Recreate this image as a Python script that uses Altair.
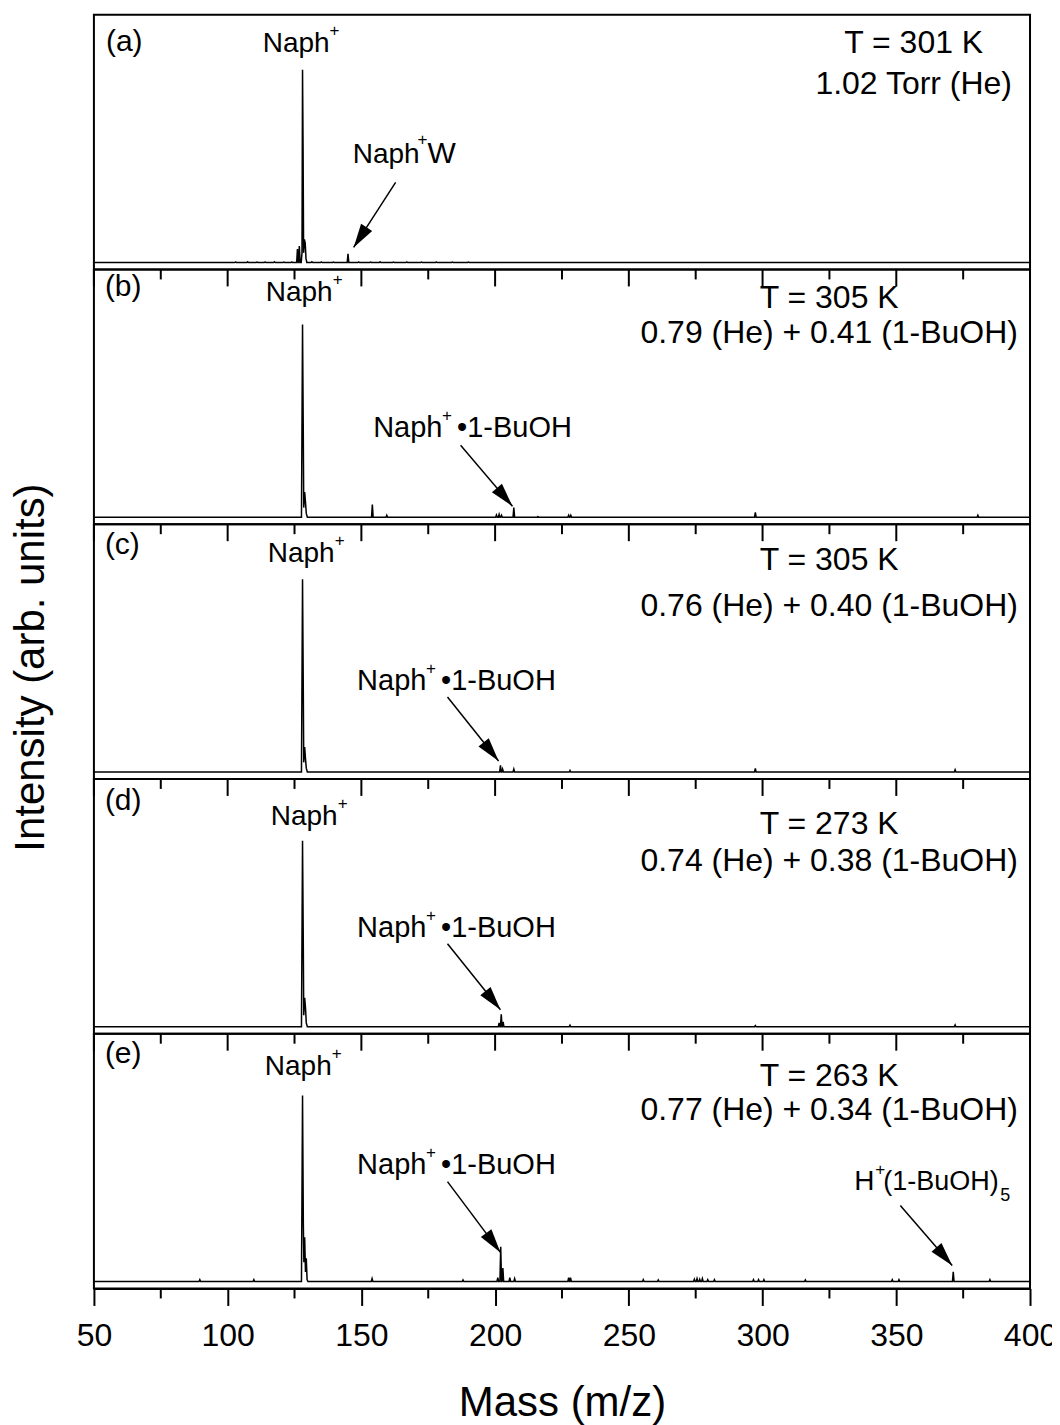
import altair as alt
import pandas as pd

FONT = "Liberation Sans"

# ---------------- axis / ticks ----------------
MZ_RANGE = [50, 400]
MAJOR_TICKS = [50, 100, 150, 200, 250, 300, 350, 400]
MINOR_TICKS = [75, 125, 175, 225, 275, 325, 375]
Y_RANGE = [-0.036, 1.285]

# ---------------- panel texts ----------------
PANEL_IDS = ["(a)", "(b)", "(c)", "(d)", "(e)"]
TEMPS = ["T = 301 K", "T = 305 K", "T = 305 K", "T = 273 K", "T = 263 K"]
PRESSURES = ["1.02 Torr (He)",
             "0.79 (He) + 0.41 (1-BuOH)",
             "0.76 (He) + 0.40 (1-BuOH)",
             "0.74 (He) + 0.38 (1-BuOH)",
             "0.77 (He) + 0.34 (1-BuOH)"]

# ---------------- spectra (m/z, relative intensity) ----------------
# main Naph+ cluster profile per panel
PROFILE_A = [(127.5, 0.0), (127.8, 0.05), (128.0, 1.0), (128.2, 0.6), (128.4, 0.05),
             (128.7, 0.12), (129.0, 0.1), (129.3, 0.02), (129.6, 0.0)]
PROFILE_B = [(127.6, 0.0), (128.0, 1.0), (128.25, 0.5), (128.45, 0.05), (128.8, 0.13),
             (129.1, 0.08), (129.4, 0.02), (129.8, 0.0)]
PROFILE_C = [(127.6, 0.0), (128.0, 1.0), (128.25, 0.5), (128.45, 0.05), (128.8, 0.13),
             (129.1, 0.07), (129.4, 0.02), (129.8, 0.0)]
PROFILE_D = [(127.6, 0.0), (128.0, 0.965), (128.25, 0.5), (128.45, 0.06), (128.8, 0.15),
             (129.1, 0.1), (129.4, 0.02), (129.8, 0.0)]
PROFILE_E = [(127.6, 0.0), (128.0, 0.965), (128.3, 0.3), (128.5, 0.1), (128.8, 0.23),
             (129.1, 0.05), (129.4, 0.12), (129.7, 0.01), (130.0, 0.0)]

# narrow side peaks
STICKS_A = [(103, 0.003), (107.5, 0.004), (111, 0.002), (114, 0.003), (117.5, 0.004),
            (121, 0.002), (124, 0.003), (126.1, 0.07), (126.8, 0.085),
            (131.5, 0.004), (135, 0.003), (139.5, 0.002),
            (145, 0.045), (149, 0.003), (153.5, 0.002), (157, 0.004), (162, 0.002),
            (167, 0.003), (172.5, 0.002), (178, 0.003), (184, 0.002), (190, 0.002)]
STICKS_B = [(154.1, 0.066), (159.5, 0.01), (200.5, 0.012), (201.5, 0.015), (202.4, 0.01),
            (207.0, 0.05), (216.0, 0.004), (227.5, 0.01), (228.3, 0.01), (297.3, 0.025),
            (380.5, 0.01)]
STICKS_C = [(202.0, 0.035), (202.8, 0.015), (207.0, 0.015), (228.0, 0.008),
            (297.3, 0.018), (372.0, 0.012)]
STICKS_D = [(201.5, 0.02), (202.3, 0.065), (203.0, 0.025), (228.0, 0.008),
            (297.3, 0.006), (372.0, 0.01)]
STICKS_E = [(89.6, 0.01), (109.8, 0.01), (154.0, 0.015), (188.0, 0.008), (201.0, 0.02),
            (202.1, 0.18), (202.9, 0.07), (205.5, 0.02), (207.3, 0.015), (227.5, 0.02),
            (228.2, 0.02), (255.4, 0.01), (261.0, 0.008), (274.5, 0.012), (275.5, 0.015),
            (276.5, 0.012), (277.5, 0.015), (279.5, 0.01), (282.0, 0.01), (296.6, 0.01),
            (298.5, 0.01), (300.5, 0.01), (316.0, 0.008), (348.5, 0.01), (351.0, 0.01),
            (371.3, 0.05), (385.0, 0.01)]

PROFILES = [PROFILE_A, PROFILE_B, PROFILE_C, PROFILE_D, PROFILE_E]
STICKS = [STICKS_A, STICKS_B, STICKS_C, STICKS_D, STICKS_E]

# ---------------- annotation anchors (m/z, intensity) ----------------
ID_POS = [(54.5, 1.099), (54.1, 1.145), (54.1, 1.13), (54.1, 1.124), (54.1, 1.135)]
NAPH_POS = [(113.1, 1.093), (114.25, 1.119), (115.0, 1.088), (116.1, 1.047), (113.9, 1.073)]
COND_MZ = [356.5, 324.9, 324.9, 324.9, 324.9]
TEMP_I = [1.088, 1.083, 1.047, 1.0, 1.016]
PRES_I = [0.874, 0.902, 0.808, 0.808, 0.84]

# cluster labels: (panel, kind, m/z, intensity)
CLUSTER_LABELS = [(0, "W", 146.75, 0.518),
                  (1, "BuOH", 154.4, 0.415),
                  (2, "BuOH", 148.4, 0.425),
                  (3, "BuOH", 148.4, 0.467),
                  (4, "BuOH", 148.4, 0.56),
                  (4, "H5", 334.3, 0.472)]

# arrows: (panel, start m/z, start I, tip m/z, tip I, angle)
ARROWS = [(0, 162.8, 0.415, 147.1, 0.078, 32.9),
          (1, 187.1, 0.373, 206.5, 0.057, 319.5),
          (2, 182.2, 0.389, 201.3, 0.057, 321.4),
          (3, 182.2, 0.430, 202.0, 0.088, 321.2),
          (4, 182.2, 0.518, 202.0, 0.151, 323.3),
          (4, 351.5, 0.394, 370.9, 0.083, 319.1)]

W, H = 937, 255
ARROW_PATH = "M0,0L-0.55,-2L0.55,-2Z"


def trace_df(profile, sticks):
    pts = [(MZ_RANGE[0], 0.0), (MZ_RANGE[1], 0.0)] + list(profile)
    for mz, h in sticks:
        pts += [(mz - 0.3, 0.0), (mz, h), (mz + 0.3, 0.0)]
    return pd.DataFrame(pts, columns=["mz", "I"]).sort_values("mz", kind="stable")


def make_panel(i):
    last = i == 4
    xscale = alt.Scale(domain=MZ_RANGE, nice=False, zero=False)
    yscale = alt.Scale(domain=Y_RANGE, nice=False, zero=False)
    if last:
        xaxis = alt.Axis(values=MAJOR_TICKS, tickSize=17, tickWidth=2, tickColor="black",
                         domainColor="black", domainWidth=2, grid=False,
                         labelFontSize=32, labelFont=FONT, labelColor="black",
                         labelPadding=15, labelFlush=False, format="d",
                         title="Mass (m/z)", titleFontSize=42, titleFont=FONT,
                         titleFontWeight="normal", titleColor="black", titlePadding=31)
    else:
        xaxis = None
    if i == 2:
        yaxis = alt.Axis(title="Intensity (arb. units)", labels=False, ticks=False,
                         domain=False, grid=False, titleFontSize=42, titleFont=FONT,
                         titleFontWeight="normal", titleColor="black", titlePadding=41,
                         titleY=143)
    else:
        yaxis = None

    def X(f="mz"):
        return alt.X(f + ":Q", scale=xscale, axis=xaxis)

    def Y(f="I"):
        return alt.Y(f + ":Q", scale=yscale, axis=yaxis)

    layers = []
    line = alt.Chart(trace_df(PROFILES[i], STICKS[i])).mark_line(
        color="black", strokeWidth=1.5).encode(x=X(), y=Y())
    layers.append(line)

    # ticks of the panel above (pointing into this panel)
    if i > 0:
        layers.append(alt.Chart(pd.DataFrame({"mz": MAJOR_TICKS})).mark_rule(
            color="black", strokeWidth=2).encode(x=X(), y=alt.value(0), y2=alt.value(17)))
        layers.append(alt.Chart(pd.DataFrame({"mz": MINOR_TICKS})).mark_rule(
            color="black", strokeWidth=2).encode(x=X(), y=alt.value(0), y2=alt.value(10)))
    if last:
        layers.append(alt.Chart(pd.DataFrame({"mz": MINOR_TICKS})).mark_rule(
            color="black", strokeWidth=2).encode(x=X(), y=alt.value(H), y2=alt.value(H + 10)))

    def text_layer(rows, size, dx=0, dy=0, align="left"):
        df = pd.DataFrame(rows, columns=["mz", "I", "t"])
        return alt.Chart(df).mark_text(
            font=FONT, fontSize=size, color="black", align=align,
            baseline="alphabetic", dx=dx, dy=dy).encode(x=X(), y=Y(), text="t:N")

    # panel id
    layers.append(text_layer([(ID_POS[i][0], ID_POS[i][1], PANEL_IDS[i])], 30))
    # Naph+ label over the main peak
    nx, ny = NAPH_POS[i]
    layers.append(text_layer([(nx, ny, "Naph")], 28))
    layers.append(text_layer([(nx, ny, "+")], 17, dx=67, dy=-16))
    # conditions
    layers.append(text_layer([(COND_MZ[i], TEMP_I[i], TEMPS[i])], 32, align="center"))
    layers.append(text_layer([(COND_MZ[i], PRES_I[i], PRESSURES[i])], 32, align="center"))

    # cluster labels
    for p, kind, mz, inten in CLUSTER_LABELS:
        if p != i:
            continue
        if kind == "W":
            layers.append(text_layer([(mz, inten, "Naph")], 28))
            layers.append(text_layer([(mz, inten, "+")], 17, dx=65, dy=-18))
            layers.append(text_layer([(mz, inten, "W")], 30, dx=75))
        elif kind == "BuOH":
            layers.append(text_layer([(mz, inten, "Naph")], 29))
            layers.append(text_layer([(mz, inten, "+")], 17, dx=69, dy=-16))
            layers.append(text_layer([(mz, inten, "•1-BuOH")], 29, dx=84))
        else:
            layers.append(text_layer([(mz, inten, "H")], 28))
            layers.append(text_layer([(mz, inten, "+")], 17, dx=21, dy=-16))
            layers.append(text_layer([(mz, inten, "(1-BuOH)")], 27, dx=29))
            layers.append(text_layer([(mz, inten, "5")], 18, dx=146, dy=11))

    # arrows
    arr = [a for a in ARROWS if a[0] == i]
    if arr:
        adf = pd.DataFrame(arr, columns=["p", "mz", "I", "mz2", "I2", "ang"])
        layers.append(alt.Chart(adf).mark_rule(color="black", strokeWidth=1.5).encode(
            x=X(), y=Y(), x2=alt.X2("mz2:Q"), y2=alt.Y2("I2:Q")))
        layers.append(alt.Chart(adf).mark_point(
            shape=ARROW_PATH, size=576, filled=True, color="black", opacity=1,
            strokeWidth=0).encode(
            x=X("mz2"), y=Y("I2"), angle=alt.Angle("ang:Q", scale=None)))

    return alt.layer(*layers).properties(width=W, height=H)


chart = (
    alt.vconcat(*[make_panel(i) for i in range(5)], spacing=0, bounds="flush")
    .properties(padding={"left": 0, "top": 5, "right": -6, "bottom": 5})
    .configure(font=FONT)
    .configure_view(stroke="black", strokeWidth=2)
)

chart.save("out.html", embed_options={"renderer": "svg", "actions": False})
